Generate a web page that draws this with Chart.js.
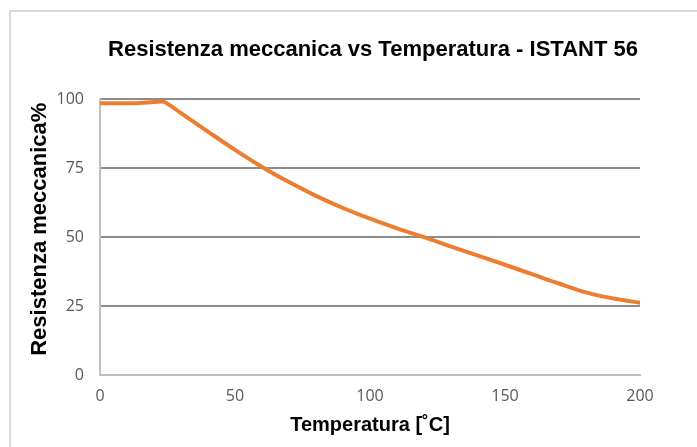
<!DOCTYPE html>
<html>
<head>
<meta charset="utf-8">
<script src="https://cdn.jsdelivr.net/npm/chart.js@4/dist/chart.umd.min.js"></script>
<style>
  html, body { margin: 0; padding: 0; background: #ffffff; overflow: hidden; }
  #wrap { position: relative; width: 697px; height: 447px; }
  #frame { position: absolute; left: 9px; top: 10px; width: 700px; height: 460px; border: 2px solid #d9d9d9; box-sizing: border-box; }
  canvas { position: absolute; left: 0; top: 0; }
</style>
</head>
<body>
<div id="wrap">
  <div id="frame"></div>
  <canvas id="c" width="697" height="447"></canvas>
</div>
<script>
const chartTitle = "Resistenza meccanica vs Temperatura - ISTANT 56";
const xAxisTitle = "Temperatura [˚C]";
const yAxisTitle = "Resistenza meccanica%";
const temperatures = [0, 5, 10, 15, 20, 23, 26, 30, 40, 50, 60, 70, 80, 90, 100, 110, 120, 130, 140, 150, 160, 170, 180, 190, 200];
const resistance  = [98.6, 98.6, 98.6, 98.7, 99.1, 99.2, 97.8, 95.0, 88.3, 81.7, 75.5, 70.0, 65.0, 60.6, 56.7, 53.2, 50.0, 46.6, 43.3, 40.0, 36.6, 33.2, 30.0, 27.8, 26.2];
const xTicks = [0, 50, 100, 150, 200];
const yTicks = [0, 25, 50, 75, 100];

const points = temperatures.map((t, i) => ({ x: t, y: resistance[i] }));

// place the chart title and y-axis title as in the reference
const titlePlacePlugin = {
  id: 'titlePlace',
  afterLayout(chart) {
    const tb = chart.titleBlock;
    if (tb) {
      const w = tb.right - tb.left;
      const c = 373;
      tb.left = c - w / 2;
      tb.right = c + w / 2;
    }
    const ys = chart.scales.y;
    if (ys && !ys._titlePatched) {
      const orig = ys.drawTitle;
      ys.drawTitle = function () {
        const t = this.top, b = this.bottom;
        this.top = t - 8; this.bottom = b - 8;
        orig.call(this);
        this.top = t; this.bottom = b;
      };
      ys._titlePatched = true;
    }
  }
};

new Chart(document.getElementById('c'), {
  type: 'line',
  data: {
    datasets: [{
      data: points,
      borderColor: '#ED7D31',
      borderWidth: 4,
      pointRadius: 0,
      fill: false,
      cubicInterpolationMode: 'monotone',
      borderCapStyle: 'round',
      borderJoinStyle: 'round'
    }]
  },
  plugins: [titlePlacePlugin],
  options: {
    responsive: false,
    animation: false,
    devicePixelRatio: 1,
    layout: { padding: { left: 0, right: 57, top: 0, bottom: 0 } },
    plugins: {
      legend: { display: false },
      tooltip: { enabled: false },
      title: {
        display: true,
        text: chartTitle,
        color: '#000000',
        font: { family: 'Liberation Sans', size: 22, weight: 'bold' },
        padding: { top: 37, bottom: 36 }
      }
    },
    scales: {
      x: {
        type: 'linear',
        min: xTicks[0],
        max: xTicks[xTicks.length - 1],
        afterBuildTicks: s => { s.ticks = xTicks.map(v => ({ value: v })); },
        afterFit: s => { s.height = 72; },
        grid: { display: false, drawTicks: false },
        border: { display: true, color: '#bfbfbf', width: 2 },
        ticks: {
          color: '#595959',
          font: { family: 'Open Sans', size: 16 },
          padding: 12,
          maxRotation: 0
        },
        title: {
          display: true,
          text: xAxisTitle,
          color: '#000000',
          font: { family: 'Liberation Sans', size: 20, weight: 'bold' },
          padding: { top: 4, bottom: 10 }
        }
      },
      y: {
        type: 'linear',
        min: yTicks[0],
        max: yTicks[yTicks.length - 1],
        afterBuildTicks: s => { s.ticks = yTicks.map(v => ({ value: v })); },
        afterFit: s => { s.width = 100; },
        grid: {
          drawTicks: false,
          color: ctx => (ctx.tick && ctx.tick.value === 0) ? 'rgba(0,0,0,0)' : '#8c8c8c',
          lineWidth: 2
        },
        border: { display: true, color: '#bfbfbf', width: 2 },
        ticks: {
          color: '#595959',
          font: { family: 'Open Sans', size: 16 },
          padding: 16
        },
        title: {
          display: true,
          text: yAxisTitle,
          color: '#000000',
          font: { family: 'Liberation Sans', size: 22, weight: 'bold' },
          padding: { top: 27, bottom: 0 }
        }
      }
    }
  }
});
</script>
</body>
</html>
